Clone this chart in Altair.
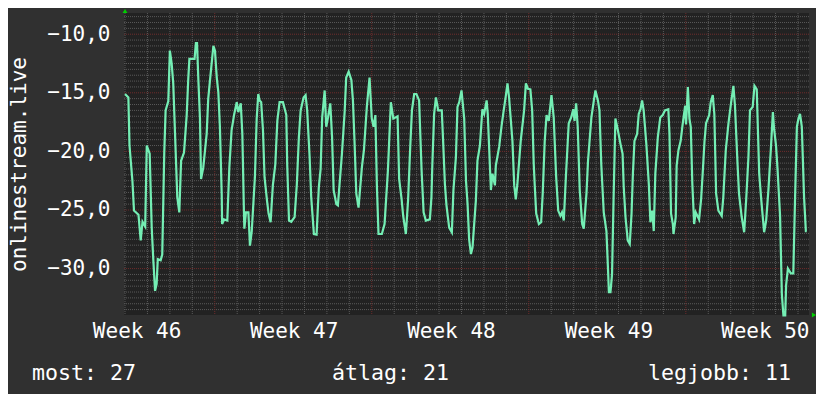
import altair as alt
import pandas as pd

# ---- data (x in days from the first grid line, y in value units) ----
DAYS = [
    0.00, 0.15, 0.20, 0.33, 0.40, 0.60, 0.70, 0.78, 0.90, 0.97, 1.10, 1.19, 1.26, 1.34, 1.41, 1.46, 1.59, 1.66,
    1.75, 1.81, 1.93, 2.00, 2.08, 2.15, 2.23, 2.33, 2.42, 2.50, 2.63, 2.75, 2.82, 2.87, 3.10, 3.16, 3.21, 3.27,
    3.34, 3.39, 3.49, 3.64, 3.71, 3.79, 3.94, 4.01, 4.09, 4.16, 4.23, 4.31, 4.33, 4.41, 4.56, 4.65, 4.75, 4.87,
    4.98, 5.05, 5.16, 5.23, 5.30, 5.32, 5.39, 5.50, 5.57, 5.65, 5.79, 5.87, 5.94,
    6.00, 6.07, 6.15, 6.22, 6.33, 6.40, 6.49, 6.59, 6.70, 6.79, 6.89, 7.04, 7.19, 7.23, 7.31, 7.41, 7.56, 7.66,
    7.75, 7.83, 7.96, 8.05, 8.12, 8.23, 8.30, 8.42, 8.54, 8.64, 8.72, 8.79, 8.90, 8.97, 9.05, 9.15, 9.23, 9.30,
    9.42, 9.49, 9.67, 9.79, 9.86, 9.97, 10.09, 10.16, 10.23, 10.31, 10.41, 10.56, 10.65, 10.78, 10.90, 11.00,
    11.08, 11.16, 11.23, 11.30, 11.45, 11.57, 11.72, 11.85,
    11.96, 12.15, 12.22, 12.33, 12.40, 12.52, 12.62, 12.71, 12.79, 12.89, 12.99, 13.11, 13.22, 13.31, 13.41,
    13.59, 13.66, 13.70, 13.78, 13.86, 13.96, 14.12, 14.18, 14.26, 14.33, 14.45, 14.57, 14.64, 14.75, 14.82,
    14.90, 15.00, 15.12, 15.20, 15.27, 15.34, 15.42, 15.49, 15.64, 15.71, 15.82, 15.93, 16.01, 16.12, 16.17,
    16.23, 16.31, 16.38, 16.49, 16.53, 16.68, 16.78, 16.87, 16.98, 17.05, 17.12, 17.27, 17.35, 17.42, 17.49,
    17.64, 17.79, 17.87,
    17.96, 18.07, 18.15, 18.22, 18.27, 18.33, 18.45, 18.55, 18.62, 18.71, 18.79, 18.89, 19.01, 19.11, 19.22,
    19.31, 19.41, 19.48, 19.56, 19.66, 19.78, 19.89, 19.98, 20.04, 20.11, 20.18, 20.27, 20.38, 20.45, 20.57,
    20.64, 20.79, 20.90, 20.97, 21.08, 21.15, 21.23, 21.34, 21.46, 21.54, 21.57, 21.64, 21.71, 21.78, 21.86,
    21.97, 22.09, 22.18, 22.23, 22.31, 22.41, 22.50, 22.58, 22.64, 22.71, 22.83, 22.90, 22.98, 23.05, 23.12,
    23.24, 23.35, 23.42, 23.50, 23.57, 23.64, 23.75, 23.86,
    23.97, 24.07, 24.22, 24.27, 24.34, 24.42, 24.45, 24.55, 24.59, 24.67, 24.77, 24.85, 24.97, 25.01, 25.09,
    25.16, 25.22, 25.29, 25.37, 25.44, 25.59, 25.68, 25.75, 25.83, 25.90, 26.04, 26.11, 26.20, 26.27, 26.35,
    26.45, 26.60, 26.67, 26.78, 26.90, 27.00, 27.12, 27.19, 27.30, 27.37, 27.49, 27.60, 27.69, 27.79, 27.86,
    27.98, 28.06, 28.16, 28.27, 28.36, 28.43, 28.49, 28.58, 28.68, 28.79, 28.88, 28.93, 29.02, 29.09, 29.20,
    29.28, 29.35, 29.43, 29.47, 29.55, 29.68, 29.79, 29.87, 29.95, 30.02, 30.09, 30.17, 30.27, 30.35, 30.39,
]
VALUES = [
    -15.1, -15.4, -19.5, -22.5, -25.05, -25.4, -27.6, -26.0, -26.4, -19.5, -20.2, -26.5, -29.2, -31.9, -31.3,
    -29.2, -29.3, -28.8, -20.1, -16.5, -15.7, -11.4, -12.5, -14.2, -18.5, -23.9, -25.2, -20.8, -20.1, -16.9,
    -13.8, -12.1, -12.1, -10.75, -10.75, -13.9, -17.1, -22.35, -21.35, -18.5, -15.5, -13.9, -11.0, -11.4, -13.7,
    -14.95, -17.9, -23.6, -26.2, -25.8, -25.9, -21.4, -18.2, -16.8, -15.8, -16.65, -15.9, -18.5, -25.05, -26.6,
    -25.2, -25.2, -28.05, -26.8, -22.2, -17.2, -15.1,
    -15.65, -15.8, -18.2, -22.2, -24.2, -25.3, -26.05, -22.9, -21.1, -17.4, -15.8, -15.8, -16.9, -21.1, -25.9,
    -26.0, -25.6, -22.8, -18.8, -16.5, -15.4, -15.2, -16.5, -20.5, -23.9, -27.05, -27.1, -23.05, -21.5, -17.1,
    -14.8, -17.9, -17.1, -15.9, -18.8, -23.3, -24.5, -24.6, -20.2, -16.65, -13.7, -13.2, -13.9, -15.65, -19.1,
    -23.6, -24.8, -21.35, -19.9, -16.2, -13.7, -17.2, -17.9, -16.9, -23.05, -27.05, -27.05, -26.2, -21.6, -15.8,
    -17.2, -17.0, -22.35, -24.1, -25.5, -27.05, -24.1, -19.8, -16.5, -15.1, -15.1, -15.65, -21.6, -25.2, -25.9,
    -25.8, -23.9, -21.1, -16.8, -15.4, -16.5, -16.5, -19.1, -22.8, -24.6, -26.5, -26.9, -23.3, -20.5, -16.2,
    -15.8, -14.8, -17.2, -22.5, -24.5, -27.5, -28.76, -28.2, -24.2, -20.8, -19.5, -16.4, -16.8, -15.65, -16.8,
    -19.6, -23.3, -21.9, -22.9, -21.2, -19.6, -17.9, -16.65, -15.2, -14.2, -15.4, -19.1, -22.9, -24.1, -22.8,
    -19.1, -16.5, -14.2,
    -14.65, -14.7, -16.5, -21.1, -23.1, -25.3, -26.2, -26.05, -23.6, -19.1, -16.9, -17.4, -15.2, -17.1, -22.2,
    -25.05, -25.5, -25.2, -25.9, -21.9, -17.6, -17.1, -16.4, -17.4, -15.9, -17.9, -23.3, -26.2, -26.6, -23.6,
    -20.8, -17.1, -15.65, -14.8, -15.65, -16.5, -21.1, -25.2, -26.8, -30.5, -32.0, -32.0, -30.5, -23.9, -17.2,
    -18.2, -19.4, -20.2, -23.0, -25.6, -27.6, -27.9, -25.3, -21.9, -19.1, -18.5, -16.8, -16.4, -15.65, -16.5,
    -19.4, -22.8, -26.05, -25.05, -26.8, -21.9, -18.8, -17.1,
    -16.9, -16.5, -16.4, -18.5, -25.3, -26.2, -27.05, -25.6, -21.2, -19.9, -19.1, -17.8, -16.1, -17.7, -14.5,
    -17.2, -17.9, -22.8, -26.2, -25.2, -25.8, -24.1, -21.9, -19.2, -17.6, -16.9, -15.8, -15.2, -16.8, -23.6,
    -25.05, -25.5, -23.9, -19.9, -17.6, -16.1, -14.4, -16.1, -20.9, -23.6, -25.6, -26.9, -24.1, -20.5, -16.5,
    -16.2, -14.4, -14.7, -21.9, -24.1, -25.6, -26.9, -25.9, -23.3, -19.8, -16.65, -18.0, -19.5, -21.6, -25.5,
    -32.2, -34.0, -34.0, -31.4, -30.0, -30.4, -30.4, -23.9, -17.9, -17.2, -16.8, -17.9, -23.9, -26.8, -26.8,
]

WEEK_POS = [0.54, 7.54, 14.55, 21.57, 28.54]
WEEK_LABELS = ["Week 46", "Week 47", "Week 48", "Week 49", "Week 50"]
Y_TICKS = [-30.0, -25.0, -20.0, -15.0, -10.0]
MAJOR_DAYS = [4, 11, 18, 25]
MINOR_DAYS = [d for d in range(0, 31) if d not in MAJOR_DAYS]
MINOR_Y = [k / 2 for k in range(-67, -16) if k % 10 != 0]
LEGEND_TEXT = ["most: 27", "átlag: 21", "legjobb: 11"]
Y_TITLE = "onlinestream.live"

# ---- layout / style ----
X_DOMAIN = [-0.045, 30.49]
Y_DOMAIN = [-33.96, -8.19]
W, H = 685, 302
FONT = "DejaVu Sans Mono"
FS = 21
FS_LEGEND = 21.6
BG = "#303030"
PLOT_BG = "#222222"
GRID = "#595959"
MAJOR = "#6e2c2c"
LINE = "#74eeb4"
ARROW = "#00d000"
LEGEND_X = [-92, 208, 524]

xs = alt.Scale(domain=X_DOMAIN, nice=False, zero=False)
ys = alt.Scale(domain=Y_DOMAIN, nice=False, zero=False)

y_axis = alt.Axis(
    values=Y_TICKS,
    labelExpr="replace(format(datum.value, '.1f'), '.', ',')",
    labelFont=FONT, labelFontSize=FS, labelColor="white", labelPadding=14,
    labelBaseline="middle", labelOverlap=False, labelFlush=False,
    domain=False, ticks=False, grid=False,
    title=Y_TITLE, titleFont=FONT, titleFontSize=FS, titleFontWeight="normal",
    titleColor="white", titleAngle=270, titleAlign="center", titleBaseline="alphabetic",
    titleX=-99, titleY=H / 2,
)

df = pd.DataFrame({"d": DAYS, "v": VALUES})

minor_h = alt.Chart(pd.DataFrame({"v": MINOR_Y})).mark_rule(
    color=GRID, strokeDash=[1, 1], strokeWidth=1
).encode(y=alt.Y("v:Q", scale=ys, axis=y_axis))

minor_v = alt.Chart(pd.DataFrame({"d": MINOR_DAYS})).mark_rule(
    color=GRID, strokeDash=[1, 1], strokeWidth=1
).encode(x=alt.X("d:Q", scale=xs, axis=None))

major_h = alt.Chart(pd.DataFrame({"v": Y_TICKS})).mark_rule(
    color=MAJOR, strokeDash=[1, 1], strokeWidth=1
).encode(y=alt.Y("v:Q", scale=ys, axis=y_axis))

major_v = alt.Chart(pd.DataFrame({"d": MAJOR_DAYS})).mark_rule(
    color=MAJOR, strokeDash=[1, 1], strokeWidth=1
).encode(x=alt.X("d:Q", scale=xs, axis=None))

line = alt.Chart(df).mark_line(color=LINE, strokeWidth=2.2).encode(
    x=alt.X("d:Q", scale=xs, axis=None),
    y=alt.Y("v:Q", scale=ys, axis=y_axis),
    order="d:Q",
)

weeks = alt.Chart(pd.DataFrame({"d": WEEK_POS, "t": WEEK_LABELS})).mark_text(
    font=FONT, fontSize=FS, color="white", align="center", baseline="middle"
).encode(x=alt.X("d:Q", scale=xs, axis=None), y=alt.value(H + 17), text="t:N")

legend_layers = [
    alt.Chart(pd.DataFrame({"t": [txt]})).mark_text(
        font=FONT, fontSize=FS_LEGEND, color="white", align="left", baseline="middle"
    ).encode(x=alt.value(lx), y=alt.value(H + 59), text="t:N")
    for txt, lx in zip(LEGEND_TEXT, LEGEND_X)
]

arrow_up = alt.Chart(pd.DataFrame({"a": [0]})).mark_point(
    shape="triangle-up", filled=True, color=ARROW, size=24, opacity=1
).encode(x=alt.value(1), y=alt.value(-2))

arrow_right = alt.Chart(pd.DataFrame({"a": [0]})).mark_point(
    shape="triangle-right", filled=True, color=ARROW, size=24, opacity=1
).encode(x=alt.value(W + 5), y=alt.value(H))

chart = alt.layer(
    minor_h, minor_v, major_h, major_v, line, weeks, *legend_layers, arrow_up, arrow_right
).properties(
    width=W, height=H,
    background=BG,
    padding={"left": 116, "top": 5, "right": 7, "bottom": 79},
    autosize=alt.AutoSizeParams(type="none"),
).configure_view(fill=PLOT_BG, stroke=None)

chart.save("out.html", embed_options={"renderer": "svg", "actions": False})
